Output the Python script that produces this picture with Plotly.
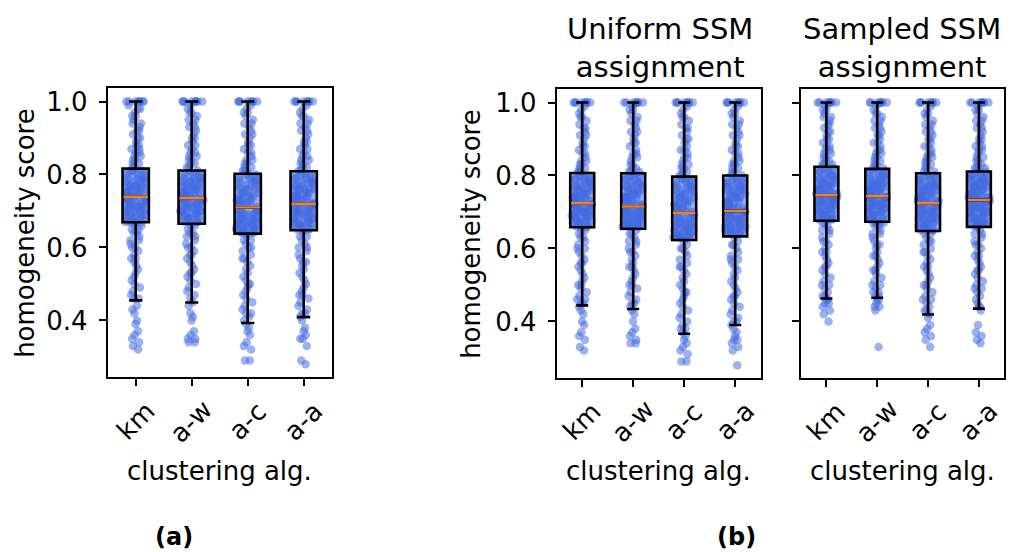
import plotly.graph_objects as go

CATS = ["km", "a-w", "a-c", "a-a"]

# ---- (a): homogeneity scores per clustering algorithm ----
A_KM = [1.0, 1.0, 1.0, 1.0, 1.0, 1.0, 1.0, 1.0,
        0.99, 0.98, 0.98, 0.97, 0.96, 0.96, 0.95, 0.94, 0.94, 0.93, 0.92, 0.92, 0.91, 0.90, 0.90,
        0.89, 0.88, 0.88, 0.87, 0.87, 0.86, 0.86, 0.85, 0.85, 0.84, 0.84, 0.83, 0.83, 0.82, 0.82,
        0.81, 0.81, 0.81, 0.80, 0.80, 0.80, 0.79, 0.79, 0.79, 0.79, 0.78, 0.78, 0.78, 0.78,
        0.77, 0.77, 0.77, 0.77, 0.77, 0.76, 0.76, 0.76, 0.76, 0.76, 0.75, 0.75, 0.75, 0.75, 0.75,
        0.75, 0.74, 0.74, 0.74, 0.74, 0.74, 0.74, 0.74,
        0.73, 0.73, 0.73, 0.73, 0.73, 0.73, 0.72, 0.72, 0.72, 0.72, 0.72, 0.72, 0.71, 0.71, 0.71,
        0.71, 0.71, 0.70, 0.70, 0.70, 0.70, 0.70, 0.69, 0.69, 0.69, 0.69, 0.69, 0.68, 0.68, 0.68,
        0.68, 0.68, 0.67, 0.67, 0.67, 0.67, 0.67,
        0.66, 0.66, 0.65, 0.65, 0.64, 0.64, 0.63, 0.62, 0.62, 0.61, 0.60, 0.60, 0.59, 0.58, 0.57,
        0.57, 0.56, 0.55, 0.54, 0.53, 0.52, 0.51, 0.50, 0.49, 0.48, 0.47, 0.46, 0.46,
        0.44, 0.43, 0.42, 0.40, 0.39, 0.37, 0.36, 0.35, 0.34, 0.33, 0.32]
A_AW = [1.0, 1.0, 1.0, 1.0, 1.0, 1.0, 1.0, 1.0, 1.0,
        0.99, 0.98, 0.97, 0.97, 0.96, 0.95, 0.95, 0.94, 0.93, 0.93, 0.92, 0.91, 0.90, 0.90, 0.89,
        0.88, 0.88, 0.87, 0.86, 0.86, 0.85, 0.85, 0.84, 0.84, 0.83, 0.83, 0.82, 0.82,
        0.81, 0.81, 0.80, 0.80, 0.80, 0.79, 0.79, 0.79, 0.79, 0.78, 0.78, 0.78, 0.78, 0.78,
        0.77, 0.77, 0.77, 0.77, 0.76, 0.76, 0.76, 0.76, 0.76, 0.76, 0.75, 0.75, 0.75, 0.75, 0.75,
        0.74, 0.74, 0.74, 0.74, 0.74, 0.74, 0.74, 0.74,
        0.73, 0.73, 0.73, 0.73, 0.73, 0.73, 0.72, 0.72, 0.72, 0.72, 0.72, 0.72, 0.71, 0.71, 0.71,
        0.71, 0.71, 0.70, 0.70, 0.70, 0.70, 0.70, 0.70, 0.69, 0.69, 0.69, 0.69, 0.69, 0.68, 0.68,
        0.68, 0.68, 0.68, 0.67, 0.67, 0.67, 0.67,
        0.66, 0.66, 0.65, 0.64, 0.64, 0.63, 0.63, 0.62, 0.61, 0.60, 0.60, 0.59, 0.58, 0.58, 0.57,
        0.56, 0.55, 0.54, 0.53, 0.53, 0.52, 0.51, 0.50, 0.49, 0.48, 0.47, 0.46, 0.45,
        0.44, 0.42, 0.41, 0.40, 0.37, 0.36, 0.35, 0.35, 0.34, 0.34]
A_AC = [1.0, 1.0, 1.0, 1.0, 1.0, 1.0, 1.0, 1.0,
        0.99, 0.98, 0.97, 0.97, 0.96, 0.95, 0.94, 0.94, 0.93, 0.92, 0.91, 0.91, 0.90, 0.89, 0.88,
        0.88, 0.87, 0.86, 0.86, 0.85, 0.84, 0.84, 0.83, 0.83, 0.82, 0.82, 0.81, 0.81, 0.81,
        0.80, 0.80, 0.80, 0.79, 0.79, 0.79, 0.78, 0.78, 0.78, 0.78, 0.77, 0.77, 0.77, 0.76, 0.76,
        0.76, 0.76, 0.75, 0.75, 0.75, 0.75, 0.74, 0.74, 0.74, 0.74, 0.73, 0.73, 0.73, 0.73, 0.73,
        0.72, 0.72, 0.72, 0.72, 0.72, 0.71, 0.71,
        0.70, 0.70, 0.70, 0.70, 0.70, 0.69, 0.69, 0.69, 0.69, 0.69, 0.68, 0.68, 0.68, 0.68, 0.68,
        0.67, 0.67, 0.67, 0.67, 0.67, 0.66, 0.66, 0.66, 0.66, 0.66, 0.66, 0.65, 0.65, 0.65, 0.65,
        0.65, 0.65, 0.64, 0.64, 0.64, 0.64, 0.64,
        0.63, 0.62, 0.62, 0.61, 0.60, 0.60, 0.59, 0.58, 0.57, 0.57, 0.56, 0.55, 0.54, 0.53, 0.52,
        0.51, 0.50, 0.50, 0.49, 0.48, 0.47, 0.46, 0.45, 0.44, 0.43, 0.42, 0.42, 0.41, 0.40, 0.39,
        0.38, 0.37, 0.36, 0.34, 0.33, 0.32, 0.29, 0.29]
A_AA = [1.0, 1.0, 1.0, 1.0, 1.0, 1.0, 1.0, 1.0,
        0.99, 0.98, 0.97, 0.96, 0.96, 0.95, 0.94, 0.94, 0.93, 0.92, 0.92, 0.91, 0.90, 0.89, 0.89,
        0.88, 0.87, 0.87, 0.86, 0.85, 0.85, 0.84, 0.84, 0.83, 0.83, 0.82, 0.82, 0.81, 0.81,
        0.80, 0.80, 0.80, 0.79, 0.79, 0.79, 0.79, 0.78, 0.78, 0.78, 0.78, 0.77, 0.77, 0.77, 0.77,
        0.76, 0.76, 0.76, 0.76, 0.76, 0.75, 0.75, 0.75, 0.75, 0.75, 0.74, 0.74, 0.74, 0.74, 0.74,
        0.73, 0.73, 0.73, 0.73, 0.73, 0.72, 0.72,
        0.72, 0.72, 0.72, 0.71, 0.71, 0.71, 0.71, 0.71, 0.70, 0.70, 0.70, 0.70, 0.70, 0.69, 0.69,
        0.69, 0.69, 0.69, 0.68, 0.68, 0.68, 0.68, 0.68, 0.67, 0.67, 0.67, 0.67, 0.67, 0.66, 0.66,
        0.66, 0.66, 0.66, 0.65, 0.65, 0.65, 0.65,
        0.64, 0.63, 0.63, 0.62, 0.61, 0.60, 0.60, 0.59, 0.58, 0.57, 0.56, 0.56, 0.55, 0.54, 0.53,
        0.52, 0.51, 0.50, 0.49, 0.48, 0.47, 0.47, 0.46, 0.45, 0.44, 0.43, 0.42, 0.42, 0.41,
        0.40, 0.38, 0.37, 0.36, 0.35, 0.35, 0.33, 0.29, 0.28]

# ---- (b) left: uniform SSM assignment ----
U_KM = [1.0, 1.0, 1.0, 1.0, 1.0, 1.0, 1.0, 1.0,
        0.99, 0.98, 0.97, 0.96, 0.96, 0.95, 0.94, 0.93, 0.93, 0.92, 0.91, 0.91, 0.90, 0.89, 0.88,
        0.88, 0.87, 0.86, 0.86, 0.85, 0.84, 0.84, 0.83, 0.83, 0.82, 0.82, 0.81, 0.81, 0.81,
        0.80, 0.80, 0.80, 0.79, 0.79, 0.79, 0.79, 0.78, 0.78, 0.78, 0.78, 0.77, 0.77, 0.77, 0.77,
        0.76, 0.76, 0.76, 0.76, 0.76, 0.75, 0.75, 0.75, 0.75, 0.75, 0.74, 0.74, 0.74, 0.74, 0.74,
        0.73, 0.73, 0.73, 0.73, 0.73, 0.73, 0.72,
        0.72, 0.72, 0.72, 0.72, 0.72, 0.71, 0.71, 0.71, 0.71, 0.71, 0.71, 0.70, 0.70, 0.70, 0.70,
        0.70, 0.70, 0.69, 0.69, 0.69, 0.69, 0.69, 0.69, 0.68, 0.68, 0.68, 0.68, 0.68, 0.67, 0.67,
        0.67, 0.67, 0.67, 0.66, 0.66, 0.66, 0.66,
        0.65, 0.65, 0.64, 0.63, 0.63, 0.62, 0.61, 0.60, 0.60, 0.59, 0.58, 0.57, 0.56, 0.56, 0.55,
        0.54, 0.53, 0.52, 0.51, 0.50, 0.50, 0.49, 0.48, 0.47, 0.46, 0.46, 0.45, 0.45, 0.44,
        0.43, 0.42, 0.40, 0.39, 0.37, 0.36, 0.35, 0.33, 0.32]
U_AW = [1.0, 1.0, 1.0, 1.0, 1.0, 1.0, 1.0, 1.0,
        0.99, 0.98, 0.98, 0.97, 0.96, 0.95, 0.95, 0.94, 0.93, 0.92, 0.92, 0.91, 0.90, 0.89, 0.89,
        0.88, 0.87, 0.86, 0.86, 0.85, 0.85, 0.84, 0.83, 0.83, 0.82, 0.82, 0.81, 0.81, 0.81,
        0.80, 0.80, 0.80, 0.79, 0.79, 0.79, 0.78, 0.78, 0.78, 0.78, 0.77, 0.77, 0.77, 0.77, 0.76,
        0.76, 0.76, 0.76, 0.75, 0.75, 0.75, 0.75, 0.75, 0.74, 0.74, 0.74, 0.74, 0.74, 0.73, 0.73,
        0.73, 0.73, 0.73, 0.72, 0.72, 0.72, 0.72,
        0.71, 0.71, 0.71, 0.71, 0.71, 0.71, 0.70, 0.70, 0.70, 0.70, 0.70, 0.70, 0.69, 0.69, 0.69,
        0.69, 0.69, 0.69, 0.68, 0.68, 0.68, 0.68, 0.68, 0.68, 0.67, 0.67, 0.67, 0.67, 0.67, 0.67,
        0.66, 0.66, 0.66, 0.66, 0.66, 0.66, 0.66,
        0.65, 0.64, 0.64, 0.63, 0.62, 0.62, 0.61, 0.60, 0.59, 0.59, 0.58, 0.57, 0.56, 0.55, 0.55,
        0.54, 0.53, 0.52, 0.51, 0.50, 0.50, 0.49, 0.48, 0.47, 0.46, 0.45, 0.45, 0.44, 0.43,
        0.42, 0.40, 0.38, 0.37, 0.36, 0.35, 0.34, 0.34]
U_AC = [1.0, 1.0, 1.0, 1.0, 1.0, 1.0, 1.0, 1.0,
        0.99, 0.98, 0.97, 0.96, 0.96, 0.95, 0.94, 0.93, 0.93, 0.92, 0.91, 0.90, 0.90, 0.89, 0.88,
        0.87, 0.87, 0.86, 0.85, 0.85, 0.84, 0.83, 0.83, 0.82, 0.82, 0.81, 0.81, 0.80, 0.80,
        0.79, 0.79, 0.79, 0.78, 0.78, 0.78, 0.77, 0.77, 0.77, 0.77, 0.76, 0.76, 0.76, 0.75, 0.75,
        0.75, 0.75, 0.74, 0.74, 0.74, 0.74, 0.73, 0.73, 0.73, 0.73, 0.72, 0.72, 0.72, 0.72, 0.72,
        0.71, 0.71, 0.71, 0.71, 0.70, 0.70, 0.70,
        0.69, 0.69, 0.69, 0.69, 0.69, 0.68, 0.68, 0.68, 0.68, 0.68, 0.67, 0.67, 0.67, 0.67, 0.67,
        0.66, 0.66, 0.66, 0.66, 0.66, 0.65, 0.65, 0.65, 0.65, 0.65, 0.64, 0.64, 0.64, 0.64, 0.64,
        0.63, 0.63, 0.63, 0.63, 0.63, 0.63, 0.63,
        0.62, 0.61, 0.60, 0.60, 0.59, 0.58, 0.57, 0.56, 0.55, 0.55, 0.54, 0.53, 0.52, 0.51, 0.50,
        0.49, 0.48, 0.48, 0.47, 0.46, 0.45, 0.44, 0.43, 0.42, 0.41, 0.40, 0.39, 0.38, 0.38, 0.37,
        0.36, 0.35, 0.34, 0.33, 0.32, 0.31, 0.29, 0.29]
U_AA = [1.0, 1.0, 1.0, 1.0, 1.0, 1.0, 1.0, 1.0,
        0.99, 0.98, 0.97, 0.97, 0.96, 0.95, 0.94, 0.94, 0.93, 0.92, 0.91, 0.91, 0.90, 0.89, 0.88,
        0.88, 0.87, 0.86, 0.86, 0.85, 0.84, 0.84, 0.83, 0.83, 0.82, 0.82, 0.81, 0.81, 0.80,
        0.80, 0.79, 0.79, 0.79, 0.78, 0.78, 0.78, 0.78, 0.77, 0.77, 0.77, 0.77, 0.76, 0.76, 0.76,
        0.76, 0.75, 0.75, 0.75, 0.75, 0.74, 0.74, 0.74, 0.74, 0.73, 0.73, 0.73, 0.73, 0.72, 0.72,
        0.72, 0.72, 0.71, 0.71, 0.71, 0.71, 0.70,
        0.70, 0.70, 0.70, 0.70, 0.70, 0.69, 0.69, 0.69, 0.69, 0.69, 0.69, 0.68, 0.68, 0.68, 0.68,
        0.68, 0.67, 0.67, 0.67, 0.67, 0.67, 0.66, 0.66, 0.66, 0.66, 0.66, 0.66, 0.65, 0.65, 0.65,
        0.65, 0.65, 0.64, 0.64, 0.64, 0.64, 0.64,
        0.63, 0.62, 0.61, 0.61, 0.60, 0.59, 0.58, 0.57, 0.57, 0.56, 0.55, 0.54, 0.53, 0.52, 0.51,
        0.50, 0.49, 0.48, 0.47, 0.47, 0.46, 0.45, 0.44, 0.43, 0.42, 0.41, 0.40, 0.40, 0.39,
        0.38, 0.37, 0.36, 0.35, 0.35, 0.34, 0.33, 0.32, 0.28]

# ---- (b) right: sampled SSM assignment ----
S_KM = [1.0, 1.0, 1.0, 1.0, 1.0, 1.0, 1.0, 1.0,
        0.99, 0.98, 0.98, 0.97, 0.96, 0.96, 0.95, 0.94, 0.94, 0.93, 0.92, 0.92, 0.91, 0.90, 0.90,
        0.89, 0.88, 0.88, 0.87, 0.87, 0.86, 0.86, 0.85, 0.85, 0.84, 0.84, 0.83, 0.83, 0.83, 0.82,
        0.82, 0.82, 0.81, 0.81, 0.81, 0.80, 0.80, 0.80, 0.80, 0.79, 0.79, 0.79, 0.79, 0.78, 0.78,
        0.78, 0.78, 0.78, 0.77, 0.77, 0.77, 0.77, 0.77, 0.76, 0.76, 0.76, 0.76, 0.76, 0.76, 0.75,
        0.75, 0.75, 0.75, 0.75, 0.75, 0.75, 0.75,
        0.74, 0.74, 0.74, 0.74, 0.74, 0.74, 0.73, 0.73, 0.73, 0.73, 0.73, 0.73, 0.72, 0.72, 0.72,
        0.72, 0.72, 0.71, 0.71, 0.71, 0.71, 0.71, 0.70, 0.70, 0.70, 0.70, 0.70, 0.69, 0.69, 0.69,
        0.69, 0.69, 0.68, 0.68, 0.68, 0.68, 0.68,
        0.67, 0.67, 0.66, 0.65, 0.65, 0.64, 0.63, 0.62, 0.62, 0.61, 0.60, 0.59, 0.59, 0.58, 0.57,
        0.56, 0.55, 0.55, 0.54, 0.53, 0.52, 0.51, 0.50, 0.50, 0.49, 0.48, 0.47, 0.47, 0.46, 0.46,
        0.45, 0.45, 0.44, 0.43, 0.42, 0.40]
S_AW = [1.0, 1.0, 1.0, 1.0, 1.0, 1.0, 1.0, 1.0,
        0.99, 0.98, 0.97, 0.97, 0.96, 0.95, 0.95, 0.94, 0.93, 0.93, 0.92, 0.91, 0.91, 0.90, 0.89,
        0.89, 0.88, 0.87, 0.87, 0.86, 0.86, 0.85, 0.85, 0.84, 0.84, 0.83, 0.83, 0.82, 0.82, 0.82,
        0.81, 0.81, 0.81, 0.80, 0.80, 0.80, 0.80, 0.79, 0.79, 0.79, 0.79, 0.78, 0.78, 0.78, 0.78,
        0.78, 0.77, 0.77, 0.77, 0.77, 0.77, 0.76, 0.76, 0.76, 0.76, 0.76, 0.76, 0.75, 0.75, 0.75,
        0.75, 0.75, 0.75, 0.74, 0.74, 0.74, 0.74,
        0.74, 0.74, 0.74, 0.73, 0.73, 0.73, 0.73, 0.73, 0.73, 0.72, 0.72, 0.72, 0.72, 0.72, 0.72,
        0.71, 0.71, 0.71, 0.71, 0.71, 0.70, 0.70, 0.70, 0.70, 0.70, 0.69, 0.69, 0.69, 0.69, 0.68,
        0.68, 0.68, 0.68, 0.68, 0.67, 0.67, 0.67,
        0.67, 0.66, 0.66, 0.65, 0.64, 0.64, 0.63, 0.62, 0.61, 0.61, 0.60, 0.59, 0.58, 0.58, 0.57,
        0.56, 0.55, 0.54, 0.54, 0.53, 0.52, 0.51, 0.50, 0.50, 0.49, 0.48, 0.48, 0.47, 0.47, 0.46,
        0.46, 0.45, 0.44, 0.44, 0.43, 0.33]
S_AC = [1.0, 1.0, 1.0, 1.0, 1.0, 1.0, 1.0, 1.0,
        0.99, 0.98, 0.97, 0.97, 0.96, 0.95, 0.94, 0.94, 0.93, 0.92, 0.92, 0.91, 0.90, 0.90, 0.89,
        0.88, 0.88, 0.87, 0.86, 0.86, 0.85, 0.85, 0.84, 0.84, 0.83, 0.83, 0.82, 0.82, 0.81, 0.81,
        0.80, 0.80, 0.80, 0.79, 0.79, 0.79, 0.79, 0.78, 0.78, 0.78, 0.78, 0.77, 0.77, 0.77, 0.77,
        0.77, 0.76, 0.76, 0.76, 0.76, 0.76, 0.75, 0.75, 0.75, 0.75, 0.75, 0.74, 0.74, 0.74, 0.74,
        0.74, 0.73, 0.73, 0.73, 0.73, 0.73, 0.73,
        0.72, 0.72, 0.72, 0.72, 0.72, 0.71, 0.71, 0.71, 0.71, 0.71, 0.70, 0.70, 0.70, 0.70, 0.70,
        0.69, 0.69, 0.69, 0.69, 0.69, 0.68, 0.68, 0.68, 0.68, 0.68, 0.67, 0.67, 0.67, 0.67, 0.66,
        0.66, 0.66, 0.66, 0.65, 0.65, 0.65, 0.65,
        0.64, 0.64, 0.63, 0.62, 0.62, 0.61, 0.60, 0.59, 0.59, 0.58, 0.57, 0.56, 0.55, 0.55, 0.54,
        0.53, 0.52, 0.51, 0.50, 0.50, 0.49, 0.48, 0.47, 0.46, 0.46, 0.45, 0.44, 0.43, 0.43, 0.42,
        0.41, 0.39, 0.38, 0.37, 0.36, 0.35, 0.33]
S_AA = [1.0, 1.0, 1.0, 1.0, 1.0, 1.0, 1.0, 1.0,
        0.99, 0.98, 0.98, 0.97, 0.96, 0.95, 0.95, 0.94, 0.93, 0.93, 0.92, 0.91, 0.90, 0.90, 0.89,
        0.88, 0.88, 0.87, 0.87, 0.86, 0.85, 0.85, 0.84, 0.84, 0.83, 0.83, 0.82, 0.82, 0.82, 0.81,
        0.81, 0.81, 0.80, 0.80, 0.80, 0.80, 0.79, 0.79, 0.79, 0.79, 0.78, 0.78, 0.78, 0.78, 0.78,
        0.77, 0.77, 0.77, 0.77, 0.77, 0.76, 0.76, 0.76, 0.76, 0.76, 0.75, 0.75, 0.75, 0.75, 0.75,
        0.74, 0.74, 0.74, 0.74, 0.74, 0.74, 0.74,
        0.73, 0.73, 0.73, 0.73, 0.73, 0.73, 0.72, 0.72, 0.72, 0.72, 0.72, 0.71, 0.71, 0.71, 0.71,
        0.71, 0.70, 0.70, 0.70, 0.70, 0.70, 0.69, 0.69, 0.69, 0.69, 0.69, 0.68, 0.68, 0.68, 0.68,
        0.68, 0.67, 0.67, 0.67, 0.67, 0.67, 0.67,
        0.66, 0.66, 0.65, 0.64, 0.64, 0.63, 0.62, 0.61, 0.61, 0.60, 0.59, 0.58, 0.58, 0.57, 0.56,
        0.55, 0.54, 0.54, 0.53, 0.52, 0.51, 0.50, 0.49, 0.49, 0.48, 0.47, 0.46, 0.45, 0.44, 0.44,
        0.43, 0.39, 0.37, 0.36, 0.35, 0.34]

# box statistics (lower whisker, Q1, median, Q3, upper whisker) per algorithm
A_LO = [0.455, 0.449, 0.393, 0.409]
A_Q1 = [0.669, 0.665, 0.638, 0.647]
A_MED = [0.739, 0.735, 0.710, 0.720]
A_Q3 = [0.816, 0.811, 0.802, 0.809]
A_HI = [1.0, 1.0, 1.0, 1.0]

U_LO = [0.444, 0.434, 0.366, 0.390]
U_Q1 = [0.658, 0.654, 0.623, 0.633]
U_MED = [0.724, 0.715, 0.698, 0.703]
U_Q3 = [0.807, 0.806, 0.797, 0.800]
U_HI = [1.0, 1.0, 1.0, 1.0]

S_LO = [0.463, 0.465, 0.419, 0.435]
S_Q1 = [0.676, 0.673, 0.648, 0.659]
S_MED = [0.746, 0.743, 0.724, 0.733]
S_Q3 = [0.824, 0.818, 0.806, 0.811]
S_HI = [1.0, 1.0, 1.0, 1.0]

W, H = 1014, 552
FONT = "DejaVu Sans"
DOT = "rgba(65,105,225,0.52)"
BOX_FILL = "rgba(65,105,225,0.55)"
BOX_W = 0.47
Y_RANGE = [0.244, 1.036]

fig = go.Figure()


def add_panel(xa, ya, scores, lo, q1, med, q3, hi):
    # jittered strip of individual scores (box outline hidden)
    for cat, vals in zip(CATS, scores):
        fig.add_trace(go.Box(
            x=[cat] * len(vals), y=vals, xaxis=xa, yaxis=ya,
            boxpoints="all", jitter=0.9, pointpos=0, width=BOX_W,
            line=dict(width=0, color="rgba(0,0,0,0)"), fillcolor="rgba(0,0,0,0)",
            marker=dict(size=8.5, color=DOT, line=dict(width=0)),
            hoverinfo="skip", showlegend=False))
    # box + whiskers
    fig.add_trace(go.Box(
        x=CATS, q1=q1, median=med, q3=q3, lowerfence=lo, upperfence=hi,
        xaxis=xa, yaxis=ya, width=BOX_W, whiskerwidth=0.5, boxpoints=False,
        line=dict(color="black", width=2.6), fillcolor=BOX_FILL,
        hoverinfo="skip", showlegend=False))
    # median line
    fig.add_trace(go.Box(
        x=CATS, q1=med, median=med, q3=med, lowerfence=med, upperfence=med,
        xaxis=xa, yaxis=ya, width=BOX_W * 0.93, whiskerwidth=0, boxpoints=False,
        line=dict(color="#ff7f0e", width=2.4), fillcolor="rgba(0,0,0,0)",
        hoverinfo="skip", showlegend=False))


add_panel("x", "y", [A_KM, A_AW, A_AC, A_AA], A_LO, A_Q1, A_MED, A_Q3, A_HI)
add_panel("x2", "y2", [U_KM, U_AW, U_AC, U_AA], U_LO, U_Q1, U_MED, U_Q3, U_HI)
add_panel("x3", "y3", [S_KM, S_AW, S_AC, S_AA], S_LO, S_Q1, S_MED, S_Q3, S_HI)


def px_x(p):
    return p / W


def px_y(p):
    return 1 - p / H


def xaxis(dom, anchor):
    return dict(domain=dom, anchor=anchor, type="category", categoryorder="array",
                categoryarray=CATS, range=[-0.5, 3.5], showline=True, mirror=True,
                linecolor="black", linewidth=2, ticks="outside", ticklen=7, tickwidth=2,
                tickcolor="black", showticklabels=False, showgrid=False, zeroline=False,
                fixedrange=True)


def yaxis(dom, anchor, labels=True):
    return dict(domain=dom, anchor=anchor, range=Y_RANGE, showline=True, mirror=True,
                linecolor="black", linewidth=2, ticks="outside", ticklen=7, tickwidth=2,
                tickcolor="black", tickvals=[0.4, 0.6, 0.8, 1.0],
                ticktext=["0.4", "0.6", "0.8", "1.0"], showticklabels=labels,
                tickfont=dict(family=FONT, size=26, color="black"), ticklabelstandoff=6,
                showgrid=False, zeroline=False, fixedrange=True)


DOM_A_X = [px_x(107.7), px_x(331.7)]
DOM_A_Y = [px_y(376.7), px_y(86.7)]
DOM_B1_X = [px_x(556.7), px_x(760.7)]
DOM_B2_X = [px_x(801.0), px_x(1004.3)]
DOM_B_Y = [px_y(377.7), px_y(87.7)]

fig.update_layout(
    width=W, height=H, margin=dict(l=0, r=0, t=0, b=0),
    paper_bgcolor="white", plot_bgcolor="white", boxmode="overlay", showlegend=False,
    xaxis=xaxis(DOM_A_X, "y"), yaxis=yaxis(DOM_A_Y, "x"),
    xaxis2=xaxis(DOM_B1_X, "y2"), yaxis2=yaxis(DOM_B_Y, "x2"),
    xaxis3=xaxis(DOM_B2_X, "y3"), yaxis3=yaxis(DOM_B_Y, "x3", labels=False),
)

txt = dict(family=FONT, size=26, color="black")
ttl = dict(family=FONT, size=29, color="black")
ann = []
# rotated category labels under each axis
for xa in ["x", "x2", "x3"]:
    for cat in CATS:
        ann.append(dict(x=cat, xref=xa, y=px_y(421), yref="paper", text=cat,
                        textangle=-45, showarrow=False, xanchor="center",
                        yanchor="middle", font=txt))
# axis titles
for dom in [DOM_A_X, DOM_B1_X, DOM_B2_X]:
    ann.append(dict(x=(dom[0] + dom[1]) / 2, xref="paper", y=px_y(471), yref="paper",
                    text="clustering alg.", showarrow=False, xanchor="center",
                    yanchor="middle", font=txt))
ann.append(dict(x=px_x(25), xref="paper", y=(DOM_A_Y[0] + DOM_A_Y[1]) / 2, yref="paper",
                text="homogeneity score", textangle=-90, showarrow=False,
                xanchor="center", yanchor="middle", font=txt))
ann.append(dict(x=px_x(471), xref="paper", y=(DOM_B_Y[0] + DOM_B_Y[1]) / 2, yref="paper",
                text="homogeneity score", textangle=-90, showarrow=False,
                xanchor="center", yanchor="middle", font=txt))
# panel titles
ann.append(dict(x=px_x(660), xref="paper", y=px_y(46), yref="paper",
                text="Uniform SSM<br>assignment", showarrow=False,
                xanchor="center", yanchor="middle", font=ttl))
ann.append(dict(x=px_x(902), xref="paper", y=px_y(46), yref="paper",
                text="Sampled SSM<br>assignment", showarrow=False,
                xanchor="center", yanchor="middle", font=ttl))
# sub-figure tags
bold = dict(family=FONT, size=24, color="black")
ann.append(dict(x=px_x(174), xref="paper", y=px_y(537), yref="paper", text="<b>(a)</b>",
                showarrow=False, xanchor="center", yanchor="middle", font=bold))
ann.append(dict(x=px_x(736), xref="paper", y=px_y(537), yref="paper", text="<b>(b)</b>",
                showarrow=False, xanchor="center", yanchor="middle", font=bold))
fig.update_layout(annotations=ann)

fig.write_html("out.html", config={"displayModeBar": False})
